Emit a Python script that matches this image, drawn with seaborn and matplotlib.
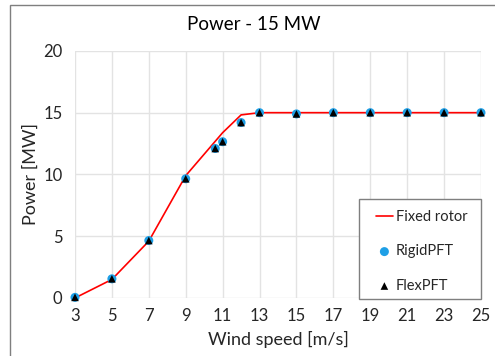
import matplotlib
matplotlib.use("Agg")
import matplotlib.pyplot as plt
import matplotlib.patches as mpatches
import pandas as pd
import seaborn as sns

# Fixed-rotor reference power curve
fixed_ws = [3, 5, 7, 9, 11, 12, 13, 15, 17, 19, 21, 23, 25]
fixed_power = [0.0, 1.5, 4.6, 9.9, 13.38, 14.82, 15.0, 15.0, 15.0, 15.0, 15.0, 15.0, 15.0]

# Simulated points (rigid and flexible PFT)
pft_ws = [3, 5, 7, 9, 10.6, 11, 12, 13, 15, 17, 19, 21, 23, 25]
rigid_power = [0.05, 1.55, 4.65, 9.65, 12.1, 12.65, 14.2, 15.0, 14.9, 15.0, 15.0, 15.0, 15.0, 15.0]
flex_power = [0.05, 1.55, 4.65, 9.65, 12.1, 12.65, 14.2, 15.0, 14.9, 15.0, 15.0, 15.0, 15.0, 15.0]

x_ticks = [3, 5, 7, 9, 11, 13, 15, 17, 19, 21, 23, 25]
y_ticks = [0, 5, 10, 15, 20]

sns.set_theme(style="white")
plt.rcParams["font.family"] = ["Lato", "DejaVu Sans"]

fixed_df = pd.DataFrame({"ws": fixed_ws, "power": fixed_power})
rigid_df = pd.DataFrame({"ws": pft_ws, "power": rigid_power})
flex_df = pd.DataFrame({"ws": pft_ws, "power": flex_power})

fig = plt.figure(figsize=(4.95, 3.56), dpi=100)
ax = fig.add_axes([0.1515, 0.163, 0.8202, 0.694])

# chart-area frame
fig.patches.append(mpatches.Rectangle((10 / 495, -0.05), 1.2, 1 - 5 / 356 + 0.05,
                                      transform=fig.transFigure, fill=False,
                                      edgecolor="#7f7f7f", linewidth=1.0))

sns.lineplot(data=fixed_df, x="ws", y="power", ax=ax, color="#ff0000",
             linewidth=1.2, label="Fixed rotor", zorder=3)
sns.scatterplot(data=rigid_df, x="ws", y="power", ax=ax, color="#1e9fe6",
                marker="o", s=42, edgecolor="none", label="RigidPFT",
                zorder=4, clip_on=False)
sns.scatterplot(data=flex_df, x="ws", y="power", ax=ax, color="black",
                marker="^", s=30, edgecolor="none", label="FlexPFT",
                zorder=5, clip_on=False)

ax.set_xlim(3, 25)
ax.set_ylim(0, 20)
ax.set_xticks(x_ticks)
ax.set_yticks(y_ticks)
ax.grid(True, color="#e3e3e3", linewidth=1.0)
ax.set_axisbelow(True)
for s in ax.spines.values():
    s.set_visible(False)
ax.tick_params(axis="both", length=0, labelsize=12, colors="#262626", pad=9)
ax.tick_params(axis="x", pad=7)

ax.set_xlabel("Wind speed [m/s]", fontsize=13, color="#262626", labelpad=5)
ax.set_ylabel("Power [MW]", fontsize=13, color="#262626", labelpad=3)
fig.text(254 / 495, 1 - 24 / 356, "Power - 15 MW", fontsize=13.5, color="#000000",
         ha="center", va="center")

# legend box drawn separately, entries placed inside it
ax.add_patch(mpatches.Rectangle((0.6995, -0.004), 0.3005, 0.405,
                                transform=ax.transAxes, facecolor="white",
                                edgecolor="#7f7f7f", linewidth=1.0,
                                zorder=6, clip_on=False))
leg = ax.legend(loc="upper left", bbox_to_anchor=(0.7414, 0.356),
                fontsize=10.5, frameon=False, borderpad=0.0, labelspacing=1.4,
                handlelength=1.15, handletextpad=0.2, borderaxespad=0.0)
leg.set_zorder(7)

fig.savefig("out.png", dpi=100)
